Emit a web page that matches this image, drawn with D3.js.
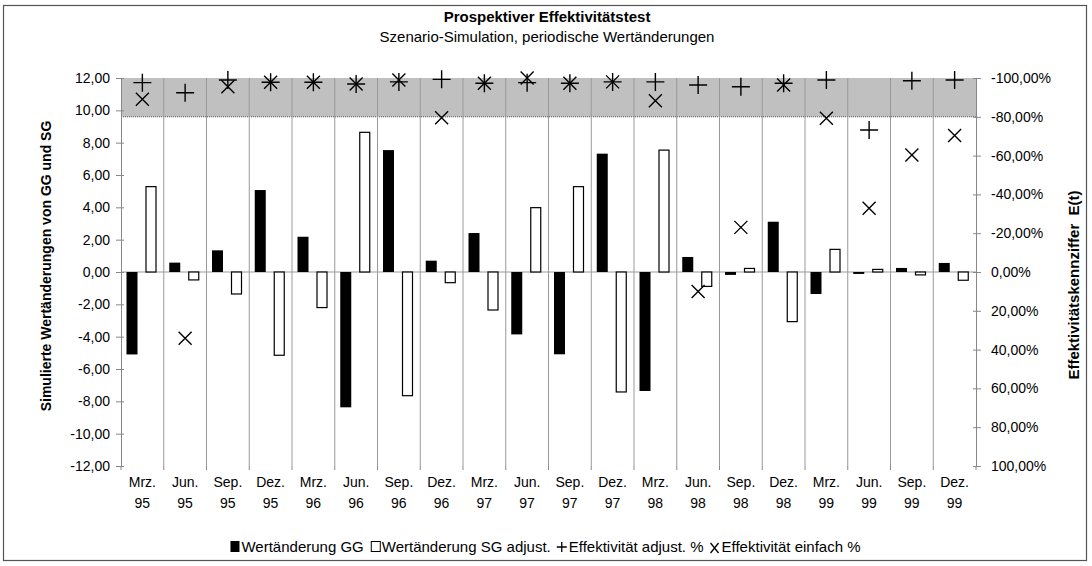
<!DOCTYPE html>
<html><head><meta charset="utf-8">
<script src="https://cdn.jsdelivr.net/npm/d3@7"></script>
<style>
body{margin:0;background:#fff;}
svg{display:block;font-family:"Liberation Sans",Arial,sans-serif;}
</style></head>
<body><svg id="c" width="1092" height="566"></svg>
<script>
const months = ["Mrz.","Jun.","Sep.","Dez.","Mrz.","Jun.","Sep.","Dez.","Mrz.","Jun.","Sep.","Dez.","Mrz.","Jun.","Sep.","Dez.","Mrz.","Jun.","Sep.","Dez."];
const years = ["95","95","95","95","96","96","96","96","97","97","97","97","98","98","98","98","99","99","99","99"];
const gg = [-5.1,0.58,1.34,5.07,2.18,-8.37,7.54,0.70,2.41,-3.86,-5.09,7.32,-7.36,0.93,-0.18,3.11,-1.36,-0.12,0.25,0.56];
const sg = [5.28,-0.49,-1.36,-5.15,-2.2,8.64,-7.65,-0.66,-2.35,3.98,5.28,-7.42,7.54,-0.89,0.22,-3.07,1.40,0.16,-0.18,-0.51];
const effAdj = [-97.6,-92.4,-99,-97.8,-97.8,-96.9,-98,-99.3,-97.3,-97.6,-97.3,-98,-98,-96.4,-95.5,-97.3,-99,-73.2,-98.6,-99];
const effEinf = [-89,34.2,-95.5,-97.8,-97.8,-96.9,-99,-79.5,-97.3,-100,-97.3,-98,-88.3,10.1,-23,-96.4,-79.2,-32.8,-60.3,-70.3];
const leftTicks = [12,10,8,6,4,2,0,-2,-4,-6,-8,-10,-12];
const rightTicks = [-100,-80,-60,-40,-20,0,20,40,60,80,100];

const svg = d3.select("#c");
const L=121, R=976, T=78, B=466;
const cats = d3.range(gg.length);
const x = d3.scaleBand().domain(cats).range([L,R]).padding(0);
const y = d3.scaleLinear().domain([-12,12]).range([B,T]);
const y2 = d3.scaleLinear().domain([-100,100]).range([T,B]);
const fmt = v => d3.format(".2f")(v).replace(".",",").replace("−","-");

// outer border
svg.append("rect").attr("x",3.5).attr("y",5.5).attr("width",1083).attr("height",555)
  .attr("fill","none").attr("stroke","#555").attr("stroke-width",1.2);

// shaded band
svg.append("rect").attr("x",L).attr("y",y2(-100)).attr("width",R-L).attr("height",y2(-80)-y2(-100))
  .attr("fill","#c0c0c0");
svg.append("line").attr("x1",L).attr("x2",R).attr("y1",y2(-80)).attr("y2",y2(-80))
  .attr("stroke","#555").attr("stroke-width",1).attr("stroke-dasharray","1,1");

// vertical gridlines
svg.append("g").selectAll("line").data(cats.slice(1)).join("line")
  .attr("x1",d=>x(d)).attr("x2",d=>x(d)).attr("y1",T).attr("y2",B)
  .attr("stroke","#999").attr("stroke-width",1);

// zero line
svg.append("line").attr("x1",L).attr("x2",R).attr("y1",y(0)).attr("y2",y(0)).attr("stroke","#999");

// bars
const bw = 11, off1 = 5.5, off2 = 24.5;
svg.append("g").selectAll("rect").data(gg).join("rect")
  .attr("x",(d,i)=>x(i)+off1).attr("width",bw)
  .attr("y",d=>y(Math.max(0,d))).attr("height",d=>Math.abs(y(d)-y(0)))
  .attr("fill","#000");
svg.append("g").selectAll("rect").data(sg).join("rect")
  .attr("x",(d,i)=>x(i)+off2+0.5).attr("width",bw-1)
  .attr("y",d=>y(Math.max(0,d))).attr("height",d=>Math.abs(y(d)-y(0)))
  .attr("fill","#fff").attr("stroke","#000").attr("stroke-width",1.2);

// markers
const cx = i => x(i)+x.bandwidth()/2;
const plusPath = (s)=>`M${-s},0H${s}M0,${-s}V${s}`;
const xPath = (s)=>`M${-s},${-s}L${s},${s}M${-s},${s}L${s},${-s}`;
svg.append("g").selectAll("path").data(effAdj).join("path")
  .attr("transform",(d,i)=>`translate(${cx(i)},${y2(d)})`)
  .attr("d",plusPath(9)).attr("stroke","#000").attr("stroke-width",1.4).attr("fill","none");
svg.append("g").selectAll("path").data(effEinf).join("path")
  .attr("transform",(d,i)=>`translate(${cx(i)},${y2(d)})`)
  .attr("d",xPath(6.5)).attr("stroke","#000").attr("stroke-width",1.4).attr("fill","none");

// left axis
const axL = svg.append("g").attr("transform",`translate(${L},0)`)
  .call(d3.axisLeft(y).tickValues(leftTicks).tickFormat(fmt).tickSizeInner(5).tickSizeOuter(0).tickPadding(6));
axL.select(".domain").attr("stroke","#888");
axL.selectAll(".tick line").attr("stroke","#888").attr("x2",-5).attr("x1",3);
axL.selectAll("text").attr("font-size",14).attr("fill","#000").attr("font-family","Liberation Sans, Arial, sans-serif");

// right axis
const axR = svg.append("g").attr("transform",`translate(${R},0)`)
  .call(d3.axisRight(y2).tickValues(rightTicks).tickFormat(v=>fmt(v)+"%").tickSizeInner(5).tickSizeOuter(0).tickPadding(10));
axR.select(".domain").attr("stroke","#888");
axR.selectAll(".tick line").attr("stroke","#888").attr("x1",-3).attr("x2",5);
axR.selectAll("text").attr("font-size",14).attr("fill","#000").attr("font-family","Liberation Sans, Arial, sans-serif");

// bottom ticks
svg.append("g").selectAll("line").data(d3.range(gg.length+1)).join("line")
  .attr("x1",d=>L+d*x.bandwidth()).attr("x2",d=>L+d*x.bandwidth())
  .attr("y1",B).attr("y2",B+4).attr("stroke","#888");

// x labels
const xl = svg.append("g").attr("font-size",14).attr("text-anchor","middle");
xl.selectAll("text.m").data(months).join("text").attr("class","m")
  .attr("x",(d,i)=>cx(i)).attr("y",487).text(d=>d);
xl.selectAll("text.y").data(years).join("text").attr("class","y")
  .attr("x",(d,i)=>cx(i)).attr("y",508).text(d=>d);

// titles
svg.append("text").attr("x",547).attr("y",22).attr("text-anchor","middle")
  .attr("font-size",15).attr("font-weight","bold").text("Prospektiver Effektivitätstest");
svg.append("text").attr("x",547).attr("y",42).attr("text-anchor","middle")
  .attr("font-size",15).text("Szenario-Simulation, periodische Wertänderungen");

svg.append("text").attr("transform","translate(51,266) rotate(-90)").attr("text-anchor","middle")
  .attr("font-size",14).attr("font-weight","bold").text("Simulierte Wertänderungen von GG und SG");
svg.append("text").attr("transform","translate(1079,285) rotate(-90)").attr("text-anchor","middle")
  .attr("font-size",15).attr("font-weight","bold").style("white-space","pre").text("Effektivitätskennziffer  E(t)");

// legend
const items = [
  {t:"Wertänderung GG", k:"black"},
  {t:"Wertänderung SG adjust.", k:"white"},
  {t:"Effektivität adjust. %", k:"plus"},
  {t:"Effektivität einfach %", k:"x"}
];
const lg = svg.append("g").attr("font-size",15);
const ly = 552;
const parts = [];
items.forEach(it=>{
  const g = lg.append("g");
  const sym = 12;
  if(it.k==="black") g.append("rect").attr("x",2).attr("y",-11).attr("width",9).attr("height",11).attr("fill","#000");
  if(it.k==="white") g.append("rect").attr("x",2.5).attr("y",-10.5).attr("width",9).attr("height",10).attr("fill","#fff").attr("stroke","#000");
  if(it.k==="plus") g.append("path").attr("d",`M1,-5H11M6,-10V0`).attr("stroke","#000").attr("stroke-width",1.3);
  if(it.k==="x") g.append("path").attr("d",`M2,-9L10,1M2,1L10,-9`).attr("stroke","#000").attr("stroke-width",1.3);
  const t = g.append("text").attr("x",sym+1).attr("y",0).text(it.t);
  const w = sym+1+t.node().getComputedTextLength()+5;
  parts.push({g,w});
});
const total = d3.sum(parts,p=>p.w);
let sx = 547 - total/2;
parts.forEach(p=>{p.g.attr("transform",`translate(${sx},${ly})`); sx+=p.w;});
</script></body></html>
